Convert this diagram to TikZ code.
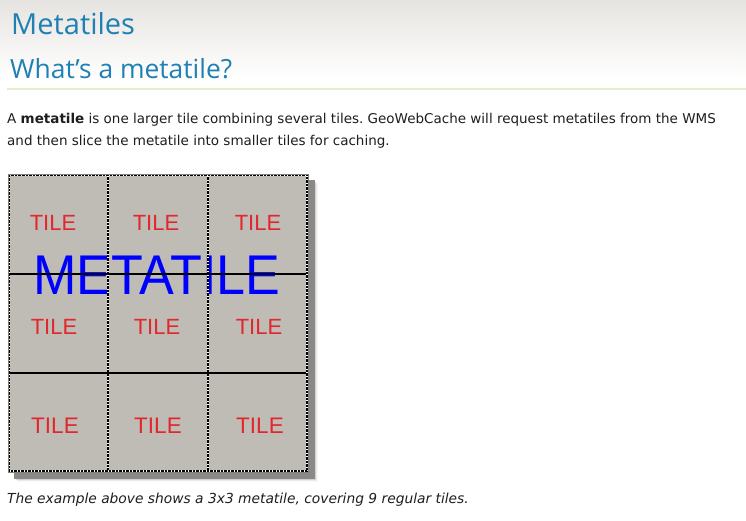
\documentclass[tikz,border=0pt]{standalone}
\usepackage{fontspec}
\setmainfont{Open Sans}
\newfontfamily\bodyfont{DejaVu Sans}
\newfontfamily\tilefont{Liberation Sans}
\usepackage{tikz}
\frenchspacing

\definecolor{headblue}{RGB}{30,128,180}
\definecolor{rulegreen}{RGB}{226,239,207}
\definecolor{topgrey}{RGB}{230,228,224}
\definecolor{tilefill}{RGB}{191,188,181}
\definecolor{tilered}{RGB}{226,38,45}
\definecolor{shadowgrey}{RGB}{138,137,134}
\definecolor{bodytext}{RGB}{30,30,30}

\tikzset{
  tilelabel/.style={anchor=base, text=tilered, font=\tilefont\fontsize{22}{22}\selectfont, inner sep=0pt},
  bodyline/.style={anchor=base west, text=bodytext, font=\bodyfont\fontsize{13.5}{13.5}\selectfont, inner sep=0pt},
  whiteline/.style={white, line width=1.2pt},
  dashline/.style={black, line width=1.2pt, dash pattern=on 2.5pt off 1pt},
}

\begin{document}
\begin{tikzpicture}[x=1pt, y=-1pt]
\useasboundingbox (0,0) rectangle (746,521);
\fill[white] (0,0) rectangle (746,521);
\shade[top color=topgrey, bottom color=white] (0,0) rectangle (746,78);
% headings
\node[anchor=base west, text=headblue, font=\fontsize{29}{29}\selectfont, inner sep=0pt] (title) at (11,35) {Metatiles};
\node[anchor=base west, text=headblue, font=\fontsize{26.4}{26.4}\selectfont, inner sep=0pt] (subtitle) at (10,79) {What’s a metatile?};
\draw[rulegreen, line width=2pt] (7,89) -- (746,89);
% text
\node[bodyline] (lineone) at (7,124) {A \textbf{metatile} is one larger tile combining several tiles. GeoWebCache will request metatiles from the WMS};
\node[bodyline] (linetwo) at (7,146) {and then slice the metatile into smaller tiles for caching.};
% shadow
\foreach \s/\o in {10/0.06, 9/0.12, 8/0.25} {
  \fill[shadowgrey, opacity=\o] (8+\s,174+\s) rectangle (308+\s,472+\s);
}
\fill[shadowgrey] (14,180) rectangle (315,479);
% metatile
\fill[tilefill] (8,174) rectangle (308,472);
\foreach \c/\x in {0/53,1/156,2/258} {
  \node[tilelabel] (tilea\c) at (\x,230) {TILE};
  \node[tilelabel] (tileb\c) at (\x+1,334) {TILE};
  \node[tilelabel, font=\tilefont\fontsize{22.5}{22.5}\selectfont] (tilec\c) at (\x+2,433) {TILE};
}
\node[anchor=base, text=blue, font=\tilefont\fontsize{56}{56}\selectfont, inner sep=0pt] (meta) at (157,294) {\scalebox{0.93}[1]{METATILE}};
% cell borders
\foreach \x in {108,208} {
  \draw[whiteline] (\x,174) -- (\x,472);
  \draw[dashline] (\x,174) -- (\x,472);
}
\foreach \y in {274,373} {
  \draw[black, line width=1.4pt] (8,\y) -- (308,\y);
}
\draw[whiteline] (9,175) rectangle (307,471);
\draw[dashline] (9,175) rectangle (307,471);
\draw[gray, line width=0.6pt] (8,174) rectangle (308,472);
% caption
\node[bodyline, font=\bodyfont\itshape\fontsize{13.8}{13.8}\selectfont] (caption) at (7,503) {The example above shows a 3x3 metatile, covering 9 regular tiles.};
\end{tikzpicture}
\end{document}
